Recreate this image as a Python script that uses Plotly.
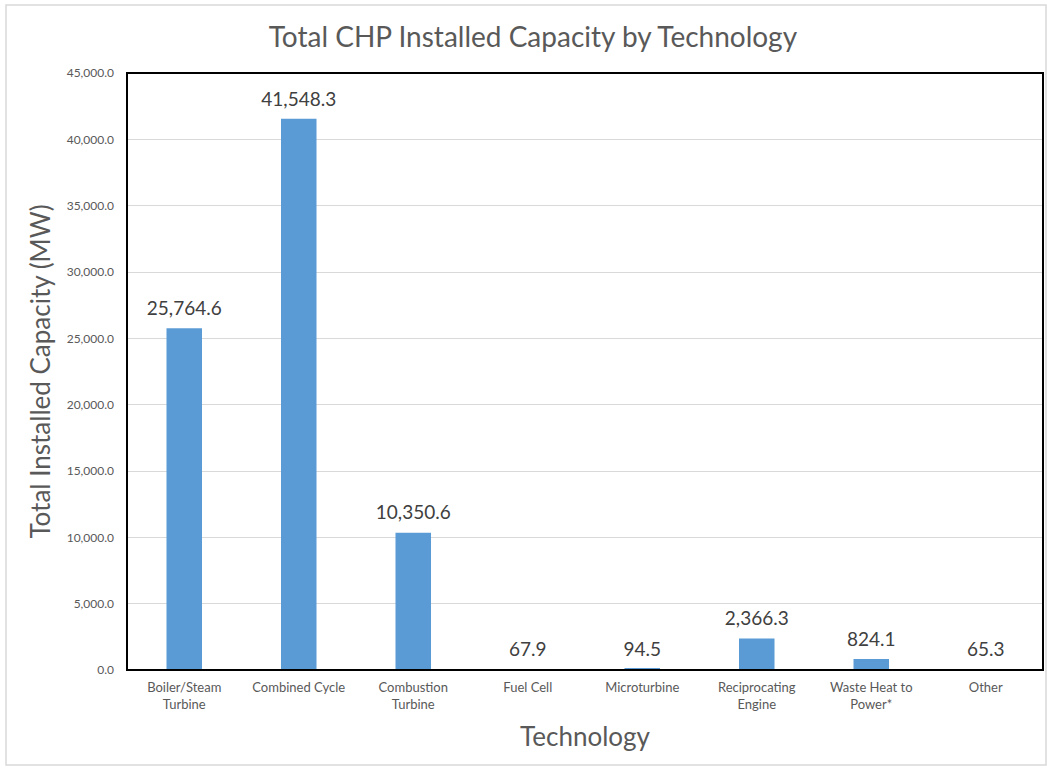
import plotly.graph_objects as go

categories = ["Boiler/Steam<br>Turbine", "Combined Cycle", "Combustion<br>Turbine", "Fuel Cell",
              "Microturbine", "Reciprocating<br>Engine", "Waste Heat to<br>Power*", "Other"]
capacity_mw = [25764.6, 41548.3, 10350.6, 67.9, 94.5, 2366.3, 824.1, 65.3]
y_ticks = [0, 5000, 10000, 15000, 20000, 25000, 30000, 35000, 40000, 45000]

FONT = "Lato, Open Sans, sans-serif"

fig = go.Figure()
fig.add_trace(go.Bar(
    x=categories, y=capacity_mw,
    marker=dict(color="#5B9BD5", line=dict(width=0)),
    width=0.31,
    hoverinfo="x+y",
))
fig.add_trace(go.Scatter(
    x=categories, y=capacity_mw,
    mode="markers+text",
    marker=dict(size=12, color="rgba(0,0,0,0)"),
    text=[f"{v:,.1f}" for v in capacity_mw],
    textposition="top center",
    textfont=dict(size=19, color="#404040", family=FONT),
    cliponaxis=False,
    hoverinfo="skip",
))

L, R, T, B = 127, 4, 73, 98
W, H = 1047, 768
pw, ph = W - L - R, H - T - B

def px_x(px):
    return (px - L) / pw

def px_y(py):
    return (H - B - py) / ph

fig.update_layout(
    width=W, height=H,
    margin=dict(l=L, r=R, t=T, b=B),
    paper_bgcolor="white", plot_bgcolor="white",
    showlegend=False,
    font=dict(family=FONT, color="#595959"),
    title=dict(text="Total CHP Installed Capacity by Technology",
               x=0.509, xref="container", xanchor="center",
               y=1 - 37 / H, yanchor="middle", yref="container",
               font=dict(size=28, color="#595959", family=FONT)),
    xaxis=dict(title=dict(text="Technology", font=dict(size=26, color="#595959"), standoff=16),
               tickfont=dict(size=13, color="#595959"),
               ticklabelstandoff=8,
               showline=False, showgrid=False, ticks=""),
    yaxis=dict(title=dict(text="Total Installed Capacity (MW)", font=dict(size=26, color="#595959"), standoff=8),
               range=[0, 45000], tickvals=y_ticks, tickformat=",.1f",
               tickfont=dict(size=12, color="#595959"),
               ticklabelstandoff=12,
               showgrid=True, gridcolor="#D9D9D9", gridwidth=1,
               zeroline=False, showline=False, ticks=""),
    shapes=[
        dict(type="rect", xref="paper", yref="paper", x0=0, x1=1, y0=0, y1=1,
             line=dict(color="black", width=2), fillcolor="rgba(0,0,0,0)", layer="above"),
        dict(type="rect", xref="paper", yref="paper",
             x0=px_x(6), x1=px_x(1046), y0=px_y(765), y1=px_y(5),
             line=dict(color="#D9D9D9", width=1.5), fillcolor="rgba(0,0,0,0)"),
    ],
)

fig.write_html("out.html")
